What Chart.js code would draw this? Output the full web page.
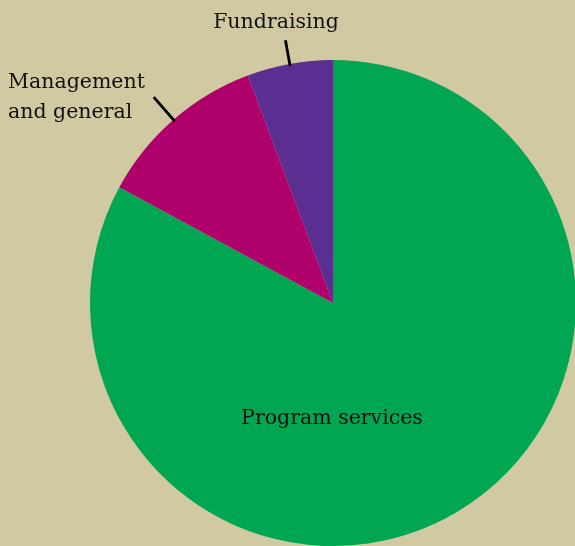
<!DOCTYPE html>
<html>
<head>
<meta charset="utf-8">
<script src="https://cdn.jsdelivr.net/npm/chart.js@4/dist/chart.umd.min.js"></script>
<style>
  html, body { margin: 0; padding: 0; background: #d0c9a2; overflow: hidden; }
  #wrap { position: absolute; left: 0; top: 0; width: 580px; height: 546px; }
</style>
</head>
<body>
<div id="wrap"><canvas id="chart"></canvas></div>
<script>
const categories = ['Program services', 'Management and general', 'Fundraising'];
const shares = [82.9, 11.4, 5.7];
const colors = ['#00a651', '#b0006b', '#5b2e91'];

// label text lines, drawn by the plugin below
const labelLines = [
  ['Program services'],
  ['Management', 'and general'],
  ['Fundraising'],
];

const sliceLabels = {
  id: 'sliceLabels',
  afterDatasetsDraw(chart) {
    const ctx = chart.ctx;
    const arcs = chart.getDatasetMeta(0).data;
    ctx.save();
    ctx.font = '20.5px "DejaVu Serif"';
    ctx.fillStyle = '#111';
    ctx.strokeStyle = '#000';
    ctx.lineWidth = 2.8;

    // program services: inside the slice
    let a = arcs[0];
    ctx.textAlign = 'center';
    ctx.textBaseline = 'alphabetic';
    ctx.fillText(labelLines[0][0], a.x - 1, a.y + 121);

    // outside slices get a short radial leader line
    [1, 2].forEach((i) => {
      const arc = arcs[i];
      const mid = (arc.startAngle + arc.endAngle) / 2;
      const r0 = arc.outerRadius - 2;
      const r1 = arc.outerRadius + (i == 1 ? 30 : 24);
      ctx.beginPath();
      ctx.moveTo(arc.x + Math.cos(mid) * r0, arc.y + Math.sin(mid) * r0);
      ctx.lineTo(arc.x + Math.cos(mid) * r1, arc.y + Math.sin(mid) * r1);
      ctx.stroke();
    });

    ctx.textAlign = 'left';
    ctx.fillText(labelLines[1][0], 8, 88);
    ctx.fillText(labelLines[1][1], 8, 118);
    ctx.textAlign = 'center';
    ctx.fillText(labelLines[2][0], 276, 28);
    ctx.restore();
  }
};

new Chart('chart', {
  type: 'pie',
  data: {
    labels: categories,
    datasets: [{
      data: shares,
      backgroundColor: colors,
      borderWidth: 0,
    }],
  },
  options: {
    responsive: true,
    maintainAspectRatio: false,
    animation: false,
    layout: { padding: { top: 60, left: 90, right: 4, bottom: 0 } },
    plugins: {
      legend: { display: false },
      tooltip: { enabled: false },
    },
  },
  plugins: [sliceLabels],
});
</script>
</body>
</html>
